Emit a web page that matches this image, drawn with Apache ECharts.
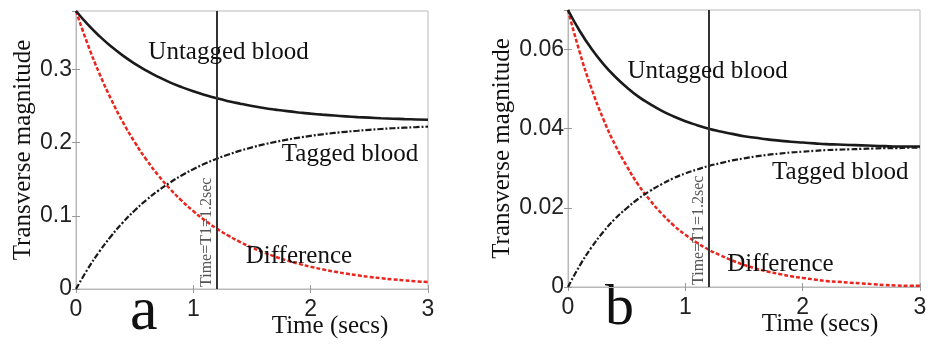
<!DOCTYPE html>
<html>
<head>
<meta charset="utf-8">
<script src="https://cdn.jsdelivr.net/npm/echarts@6/dist/echarts.min.js"></script>
<style>
  html, body { margin: 0; padding: 0; background: #fff; }
  #chart { width: 931px; height: 344px; }
</style>
</head>
<body>
<div id="chart"></div>
<script>
// time samples (secs)
const timeSecs = [0, 0.1, 0.2, 0.3, 0.4, 0.5, 0.6, 0.7, 0.8, 0.9, 1.0, 1.1, 1.2, 1.3, 1.4, 1.5,
  1.6, 1.7, 1.8, 1.9, 2.0, 2.1, 2.2, 2.3, 2.4, 2.5, 2.6, 2.7, 2.8, 2.9, 3.0];

// panel a
const untaggedA = [0.380, 0.3617, 0.3456, 0.3315, 0.3190, 0.3081, 0.2985, 0.2900, 0.2825, 0.2760,
  0.2702, 0.2651, 0.2606, 0.2567, 0.2533, 0.2502, 0.2475, 0.2452, 0.2431, 0.2413, 0.2397, 0.2383,
  0.2371, 0.2360, 0.2350, 0.2342, 0.2334, 0.2328, 0.2322, 0.2317, 0.2313];
const taggedA = [0, 0.0273, 0.0513, 0.0724, 0.0910, 0.1073, 0.1217, 0.1343, 0.1454, 0.1552,
  0.1638, 0.1714, 0.1781, 0.1839, 0.1891, 0.1936, 0.1976, 0.2011, 0.2042, 0.2069, 0.2093, 0.2114,
  0.2133, 0.2149, 0.2163, 0.2176, 0.2187, 0.2197, 0.2205, 0.2213, 0.2219];
const diffA = [0.380, 0.3344, 0.2943, 0.2591, 0.2280, 0.2008, 0.1768, 0.1557, 0.1371, 0.1208,
  0.1064, 0.0937, 0.0825, 0.0728, 0.0642, 0.0566, 0.0499, 0.0441, 0.0389, 0.0344, 0.0304, 0.0269,
  0.0238, 0.0211, 0.0187, 0.0166, 0.0147, 0.0131, 0.0117, 0.0104, 0.0094];

// panel b
const untaggedB = [0.0700, 0.0647, 0.0602, 0.0564, 0.0532, 0.0505, 0.0481, 0.0462, 0.0445, 0.0431,
  0.0419, 0.0409, 0.0400, 0.0393, 0.0387, 0.0381, 0.0377, 0.0373, 0.0370, 0.0367, 0.0365, 0.0363,
  0.0361, 0.0360, 0.0359, 0.0358, 0.0357, 0.0356, 0.0355, 0.0355, 0.0355];
const taggedB = [0, 0.0054, 0.0100, 0.0139, 0.0172, 0.0199, 0.0223, 0.0243, 0.0260, 0.0275,
  0.0287, 0.0297, 0.0306, 0.0313, 0.0320, 0.0325, 0.0330, 0.0334, 0.0337, 0.0340, 0.0342, 0.0344,
  0.0346, 0.0347, 0.0348, 0.0349, 0.0350, 0.0351, 0.0351, 0.0352, 0.0352];
const diffB = [0.0700, 0.0593, 0.0502, 0.0425, 0.0360, 0.0306, 0.0258, 0.0219, 0.0185, 0.0156,
  0.0132, 0.0112, 0.0094, 0.0080, 0.0067, 0.0056, 0.0047, 0.0039, 0.0033, 0.0027, 0.0023, 0.0019,
  0.0015, 0.0013, 0.0011, 0.0009, 0.0007, 0.0005, 0.0004, 0.0003, 0.0003];

// axis ranges [min, max, interval]
const xRange = [0, 3, 1];
const yRangeA = [0, 0.38, 0.1];
const yRangeB = [0, 0.07, 0.02];

const T1 = 1.2;
const t1Label = 'Time=T1=1.2sec';

// label anchors in data units: [text, time, magnitude]
const labelsA = [['Untagged blood', 1.30, 0.323], ['Tagged blood', 2.335, 0.184], ['Difference', 1.90, 0.044]];
const labelsB = [['Untagged blood', 1.19, 0.0544], ['Tagged blood', 2.32, 0.0290], ['Difference', 1.81, 0.0056]];

const SANS = '"Liberation Sans", Arial, sans-serif';
const SERIF = '"Liberation Serif", "Times New Roman", serif';
const frameColor = '#b8b8b8';

function pairs(values) {
  return timeSecs.map((t, i) => [t, values[i]]);
}

function buildPanel(idx, yRange, series, labels, yNameGap, nameShift) {
  const xi = idx * 2;
  const yi = idx * 2;
  const tick = { show: true, inside: true, length: 4, lineStyle: { color: '#999' } };
  const xAxes = [
    {
      gridIndex: idx, type: 'value', min: xRange[0], max: xRange[1], interval: xRange[2],
      axisLine: { lineStyle: { color: frameColor } },
      axisTick: tick,
      splitLine: { show: false },
      axisLabel: { color: '#222', fontFamily: SANS, fontSize: 23, margin: 9 },
      name: 'Time (secs)', nameLocation: 'middle', nameGap: 25, nameMoveOverlap: false,
      nameTextStyle: { color: '#111', fontFamily: SERIF, fontSize: 25, padding: [0, 0, 0, nameShift * 2] },
    },
    {
      gridIndex: idx, type: 'value', position: 'top', min: xRange[0], max: xRange[1], interval: xRange[2],
      axisLine: { lineStyle: { color: frameColor } },
      axisTick: tick, axisLabel: { show: false }, splitLine: { show: false },
    },
  ];
  const yAxes = [
    {
      gridIndex: idx, type: 'value', min: yRange[0], max: yRange[1], interval: yRange[2],
      axisLine: { show: true, lineStyle: { color: frameColor } },
      axisTick: tick,
      splitLine: { show: false },
      axisLabel: { color: '#222', fontFamily: SANS, fontSize: 23, margin: 4, showMaxLabel: false },
      name: 'Transverse magnitude', nameLocation: 'middle', nameGap: yNameGap,
      nameTextStyle: { color: '#111', fontFamily: SERIF, fontSize: 25 },
    },
    {
      gridIndex: idx, type: 'value', position: 'right', min: yRange[0], max: yRange[1], interval: yRange[2],
      axisLine: { show: true, lineStyle: { color: frameColor } },
      axisTick: tick, axisLabel: { show: false }, splitLine: { show: false },
    },
  ];
  const common = { xAxisIndex: xi, yAxisIndex: yi, showSymbol: false, smooth: true, animation: false, z: 3 };
  const out = [
    {
      ...common, name: 'Difference', type: 'line', data: pairs(series.diff),
      lineStyle: { color: '#e8261e', width: 2.5, type: [4, 2] },
    },
    {
      ...common, name: 'Tagged blood', type: 'line', data: pairs(series.tagged),
      lineStyle: { color: '#1a1a1a', width: 2.2, type: [6, 2, 2, 2] },
    },
    {
      ...common, name: 'Untagged blood', type: 'line', data: pairs(series.untagged),
      lineStyle: { color: '#1a1a1a', width: 2.6 },
      markLine: {
        silent: true, symbol: 'none', animation: false,
        lineStyle: { color: '#333', width: 2, type: 'solid' },
        label: {
          show: true, position: 'insideStartTop', distance: 2, formatter: t1Label,
          color: '#555', fontFamily: SERIF, fontSize: 16,
        },
        data: [[{ coord: [T1, yRange[0]] }, { coord: [T1, yRange[1]] }]],
      },
      markPoint: {
        silent: true, symbol: 'circle', symbolSize: 1, animation: false,
        itemStyle: { color: 'rgba(0,0,0,0)' },
        label: { show: true, position: 'inside', color: '#111', fontFamily: SERIF, fontSize: 25 },
        data: labels.map(([text, t, v]) => ({ coord: [t, v], value: text, label: { formatter: text } })),
      },
    },
  ];
  return { xAxes, yAxes, series: out };
}

const panelA = buildPanel(0, yRangeA, { untagged: untaggedA, tagged: taggedA, diff: diffA }, labelsA, 31, 78);
const panelB = buildPanel(1, yRangeB, { untagged: untaggedB, tagged: taggedB, diff: diffB }, labelsB, 51, 76);

const chart = echarts.init(document.getElementById('chart'), null, { renderer: 'canvas' });
chart.setOption({
  backgroundColor: '#fff',
  animation: false,
  grid: [
    { left: 76, width: 352, top: 11, height: 278, outerBoundsMode: 'none', show: true, borderColor: frameColor, borderWidth: 1 },
    { left: 568, width: 352, top: 10, height: 277, outerBoundsMode: 'none', show: true, borderColor: frameColor, borderWidth: 1 },
  ],
  xAxis: [...panelA.xAxes, ...panelB.xAxes],
  yAxis: [...panelA.yAxes, ...panelB.yAxes],
  series: [...panelA.series, ...panelB.series],
  graphic: [
    { type: 'text', left: 130, top: 282, style: { text: 'a', font: '62px ' + SERIF, fill: '#111' } },
    { type: 'text', left: 605, top: 280, style: { text: 'b', font: '58px ' + SERIF, fill: '#111' } },
  ],
});
</script>
</body>
</html>
